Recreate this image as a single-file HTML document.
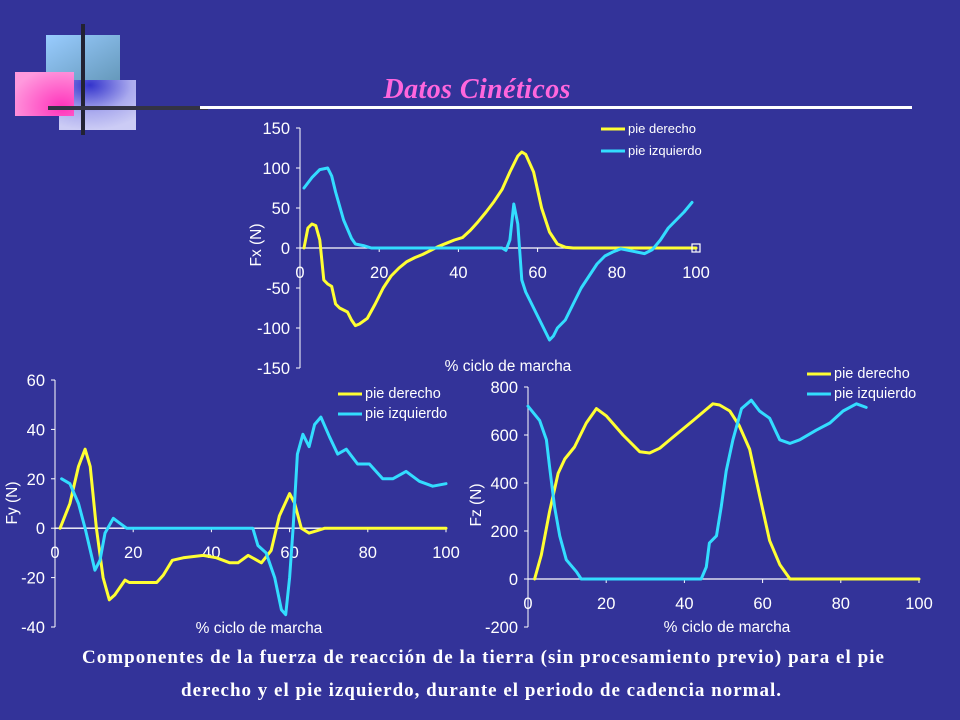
<!DOCTYPE html>
<html><head><meta charset="utf-8"><style>
html,body{margin:0;padding:0;background:#333399;}
svg{display:block;font-family:"Liberation Sans",Arial,sans-serif;}
.cap{font-family:"Liberation Serif",serif;font-weight:bold;font-size:19px;fill:#fff;}
</style></head><body>
<svg id="s" width="960" height="720" viewBox="0 0 960 720" xmlns="http://www.w3.org/2000/svg">
<defs>
<linearGradient id="gb" x1="0" y1="0" x2="1" y2="1"><stop offset="0" stop-color="#99ccff"/><stop offset="1" stop-color="#6699bb"/></linearGradient>
<radialGradient id="gp" cx="0.8" cy="0.8" r="0.9"><stop offset="0" stop-color="#ff33bb"/><stop offset="1" stop-color="#ff99dd"/></radialGradient>
<radialGradient id="gl" cx="0.4" cy="0.1" r="0.9"><stop offset="0" stop-color="#3333cc"/><stop offset="0.6" stop-color="#aaaaee"/><stop offset="1" stop-color="#ccccf5"/></radialGradient>
</defs>
<g>
<rect x="46" y="35" width="74" height="45" fill="url(#gb)"/>
<rect x="59" y="80" width="77" height="50" fill="url(#gl)"/>
<rect x="15" y="72" width="59" height="44" fill="url(#gp)"/>
<rect x="81" y="24" width="4" height="111" fill="#222233"/>
<rect x="48" y="106" width="160" height="4" fill="#333344"/>
</g>
<rect x="200" y="106" width="712" height="3" fill="#ffffff"/>
<text x="477" y="98" text-anchor="middle" font-size="28" font-style="italic" font-weight="bold" fill="#ff66dd" font-family="Liberation Serif,serif" textLength="187">Datos Cinéticos</text>
<text class="cap" x="82" y="663" textLength="802" lengthAdjust="spacing">Componentes de la fuerza de reacción de la tierra (sin procesamiento previo) para el pie</text>
<text class="cap" x="181" y="696" textLength="600" lengthAdjust="spacing">derecho y el pie izquierdo, durante el periodo de cadencia normal.</text>
</svg>
<script>
// Fx chart data
const fxRightX=[1,2,3,4,5,6,7,8,9,10,12,13,14,15,17,19,21,23,25,27,29,31,33,35,37,39,41,43,45,47,49,51,53,55,56,57,59,61,63,65,67,69,100];
const fxRightY=[0,25,30,28,10,-40,-45,-48,-70,-75,-80,-90,-97,-95,-88,-70,-50,-35,-25,-17,-12,-8,-3,2,6,10,13,22,33,45,58,73,95,115,120,117,95,50,20,5,1,0,0];
const fxLeftX=[1,3,5,7,8,9,11,13,14,16,18,51,52,53,54,55,56,57,58,60,61,63,64,65,67,69,71,73,75,77,79,81,83,85,87,89,91,93,95,97,99];
const fxLeftY=[75,88,98,100,90,70,35,12,5,3,0,0,-3,10,55,30,-40,-55,-65,-85,-95,-115,-110,-100,-90,-70,-50,-35,-20,-10,-5,-1,-3,-5,-7,-2,10,25,35,45,57];
const fxTicks=[150,100,50,0,-50,-100,-150];
// Fy chart data
const fyRightX=[1.3,3.8,6,7.7,9,10.6,12.3,13.9,15.3,17.9,19,26,27.7,30,32.8,37.9,41.3,44.7,46.8,49.4,52.8,55.3,57.4,60,61.3,63,65,67,69,100];
const fyRightY=[0,10,25,32,25,0,-20,-29,-27,-21,-22,-22,-19,-13,-12,-11,-12,-14,-14,-11,-14,-9,5,14,10,0,-2,-1,0,0];
const fyLeftX=[1.7,3.8,6,7.7,10.2,11.5,12.8,14.9,16.6,18.3,50.6,51.9,54,56.2,57.9,59,60,60.9,62,63.4,65,66.4,68,70.2,72.3,74.5,77.4,80.4,83.8,86.4,89.8,93.2,96.6,100];
const fyLeftY=[20,18,10,0,-17,-13,-2,4,2,0,0,-7,-10,-20,-33,-35,-20,0,30,38,33,42,45,37,30,32,26,26,20,20,23,19,17,18];
const fyTicks=[60,40,20,0,-20,-40];
// Fz chart data
const fzRightX=[1.7,3.4,5.5,7.7,9.4,11.9,14.9,17.5,20,24.3,28.6,31.1,33.7,37,42.2,47.3,49,51.6,54,56.7,59.2,61.8,64.4,67,100];
const fzRightY=[0,100,280,440,500,550,650,710,680,600,530,525,545,590,660,730,725,700,640,540,350,160,60,0,0];
const fzLeftX=[0,3,4.7,5.5,6.8,8.1,9.8,12.4,13.6,44.3,45.6,46.4,48.2,49.4,50.7,52.4,54.6,57.1,59.2,61.8,64.4,67,69.5,73.7,77.2,80.6,84,86.5];
const fzLeftY=[720,660,580,470,300,180,80,30,0,0,50,150,180,300,450,580,710,745,700,670,580,565,580,620,650,700,730,715];
const fzTicks=[800,600,400,200,0,-200];
const xTicks=[0,20,40,60,80,100];

const svg=document.getElementById('s');
const NS='http://www.w3.org/2000/svg';
function mk(tag,attrs,parent){const e=document.createElementNS(NS,tag);for(const k in attrs)e.setAttribute(k,attrs[k]);(parent||svg).appendChild(e);return e;}

function chart(c){
  const g=mk('g',{});
  
  
  const sx=v=>c.x0+(v)/100*(c.x1-c.x0);
  const sy=v=>c.yTop+(c.yMax-v)/(c.yMax-c.yMin)*(c.yBot-c.yTop);
  const ax=mk('line',{x1:c.x0,y1:c.yTop,x2:c.x0,y2:c.yBot,stroke:'#fff','stroke-width':1},g);
  
  
  const zx=mk('line',{x1:c.x0,y1:sy(0),x2:c.x1,y2:sy(0),stroke:'#fff','stroke-width':1.3},g);
  
  
  c.yt.forEach(v=>{
    mk('line',{x1:c.x0-4,y1:sy(v),x2:c.x0,y2:sy(v),stroke:'#fff'},g);
    const t=mk('text',{x:c.x0-10,y:sy(v)+6,'text-anchor':'end','font-size':16.5,fill:'#fff'},g);
    
    
    t.textContent=v;
  });
  xTicks.forEach(v=>{
    mk('line',{x1:sx(v),y1:sy(0),x2:sx(v),y2:sy(0)+4,stroke:'#fff'},g);
    const t=mk('text',{x:sx(v),y:sy(0)+30,'text-anchor':'middle','font-size':16.5,fill:'#fff'},g);
    
    
    t.textContent=v;
  });
  const xt=mk('text',{x:c.xtx,y:c.xty,'text-anchor':'middle','font-size':15.5,fill:'#fff'},g);
  
  
  xt.textContent='% ciclo de marcha';
  const yt=mk('text',{x:0,y:0,'text-anchor':'middle','font-size':15.5,fill:'#fff',transform:`translate(${c.ytx},${c.yty}) rotate(-90)`},g);
  
  
  yt.textContent=c.ylab;
  const series=[[c.rx,c.ry,'#ffff33','pie derecho','series-pie-derecho'],[c.lx,c.ly,'#33ddff','pie izquierdo','series-pie-izquierdo']];
  series.forEach((s,i)=>{
    const d=s[0].map((x,j)=>(j?'L':'M')+sx(x).toFixed(1)+','+sy(s[1][j]).toFixed(1)).join('');
    const p=mk('path',{d:d,fill:'none',stroke:s[2],'stroke-width':3,'stroke-linejoin':'round','stroke-linecap':'round'},g);
    
    
    const ly=c.ly0+i*c.ldy;
    const ll=mk('line',{x1:c.lgx,y1:ly,x2:c.lgx+24,y2:ly,stroke:s[2],'stroke-width':3},g);
    
    
    const lt=mk('text',{x:c.lgx+27,y:ly+4,'font-size':c.lfs,fill:'#fff'},g);
    
    
    lt.textContent=s[3];
  });
  return {g,sx,sy};
}
const a=chart({name:'fx-chart',x0:300,x1:696,yTop:128,yBot:368,yMax:150,yMin:-150,yt:fxTicks,rx:fxRightX,ry:fxRightY,lx:fxLeftX,ly:fxLeftY,xtx:508,xty:371,ytx:261,yty:245,ylab:'Fx (N)',lgx:601,ly0:129,ldy:22,lfs:13});
mk('rect',{x:692,y:244,width:8,height:8,fill:'none',stroke:'#fff','stroke-width':1.2},a.g);
chart({name:'fy-chart',x0:55,x1:446,yTop:380,yBot:627,yMax:60,yMin:-40,yt:fyTicks,rx:fyRightX,ry:fyRightY,lx:fyLeftX,ly:fyLeftY,xtx:259,xty:633,ytx:17,yty:503,ylab:'Fy (N)',lgx:338,ly0:394,ldy:20,lfs:14.5});
chart({name:'fz-chart',x0:528,x1:919,yTop:387,yBot:627,yMax:800,yMin:-200,yt:fzTicks,rx:fzRightX,ry:fzRightY,lx:fzLeftX,ly:fzLeftY,xtx:727,xty:632,ytx:481,yty:505,ylab:'Fz (N)',lgx:807,ly0:374,ldy:20,lfs:14.5});
</script>
</body></html>
